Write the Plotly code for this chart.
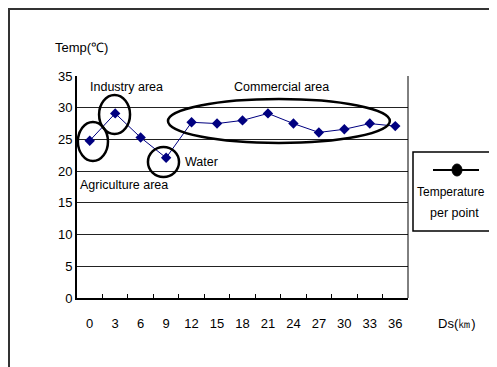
import plotly.graph_objects as go

distances = [0, 3, 6, 9, 12, 15, 18, 21, 24, 27, 30, 33, 36]
temperature = [24.8, 29.1, 25.3, 22.1, 27.7, 27.5, 28.0, 29.1, 27.5, 26.1, 26.6, 27.5, 27.1]
y_ticks = [0, 5, 10, 15, 20, 25, 30, 35]

FONT = "Liberation Sans, Arial, sans-serif"
FS = 12.5
NAVY = "#000080"

# plot area in screen pixels (page has an 8px body offset)
L, T, R, B = 77, 76, 408, 298
W, H = R - L, B - T
FW, FH = 481, 359

fig = go.Figure()
fig.add_trace(go.Scatter(
    x=distances, y=temperature, mode="lines+markers",
    line=dict(color=NAVY, width=1),
    marker=dict(symbol="diamond", size=8, color=NAVY),
    showlegend=False, cliponaxis=False,
))

fig.update_layout(
    width=FW, height=FH,
    margin=dict(l=L - 8, r=FW - (R - 8), t=T - 8, b=FH - (B - 8)),
    paper_bgcolor="white", plot_bgcolor="white",
    font=dict(family=FONT, size=FS, color="black"),
    xaxis=dict(
        range=[-1.5, 37.5], tickvals=distances, ticktext=[str(d) for d in distances],
        ticks="", showgrid=False, zeroline=False,
        showline=True, linecolor="black", linewidth=2,
        ticklabelstandoff=12,
        tickfont=dict(size=13),
        minor=dict(tickvals=[d + 1.5 for d in distances[:-1]], ticks="inside",
                   ticklen=4, tickcolor="black", tickwidth=1, showgrid=False),
    ),
    yaxis=dict(
        range=[0, 35], tickvals=y_ticks, ticks="", showgrid=True,
        gridcolor="#222222", gridwidth=1, zeroline=False,
        showline=True, linecolor="black", linewidth=2,
        tickfont=dict(size=13),
    ),
)

def px(x):
    return (x - L) / W

def py(y):
    return (B - y) / H

shapes = []
shapes.append(dict(type="line", xref="paper", yref="paper", x0=1, x1=1, y0=0, y1=1,
                   line=dict(color="black", width=1)))
# outer frame
shapes.append(dict(type="rect", xref="paper", yref="paper", x0=px(9), x1=px(496),
                   y0=py(380), y1=py(9), line=dict(color="#333333", width=2)))
# highlight ellipses
ell = [(-1.4, 2.15, 21.6, 27.75), (1.1, 4.75, 25.86, 32.0),
       (6.86, 10.52, 19.08, 23.8), (9.22, 35.36, 24.44, 31.37)]
for x0, x1, y0, y1 in ell:
    shapes.append(dict(type="circle", xref="x", yref="y", x0=x0, x1=x1, y0=y0, y1=y1,
                       line=dict(color="black", width=2.5)))
# legend box
shapes.append(dict(type="rect", xref="paper", yref="paper", x0=px(413), x1=px(505),
                   y0=py(231), y1=py(152), line=dict(color="black", width=1.5),
                   fillcolor="white"))
shapes.append(dict(type="line", xref="paper", yref="paper", x0=px(433), x1=px(479),
                   y0=py(170), y1=py(170), line=dict(color="black", width=2)))
shapes.append(dict(type="circle", xref="paper", yref="paper",
                   x0=px(452), x1=px(462), y0=py(176), y1=py(164),
                   fillcolor="black", line=dict(color="black", width=1)))
fig.update_layout(shapes=shapes)

def ann(text, x, y, anchor="left", size=FS):
    return dict(text=text, xref="paper", yref="paper", x=px(x), y=py(y),
                xanchor=anchor, yanchor="middle", showarrow=False,
                font=dict(family=FONT, size=size, color="black"))

fig.update_layout(annotations=[
    ann("Temp(℃)", 53, 48, size=13),
    ann("Industry area", 88, 87),
    ann("Commercial area", 232, 87),
    ann("Water", 183, 162),
    ann("Agriculture area", 78, 185),
    ann("Ds(㎞)", 436, 323, size=13),
    ann("Temperature", 451, 192, anchor="center", size=12),
    ann("per point", 454, 213, anchor="center"),
])

fig.write_html("out.html")
